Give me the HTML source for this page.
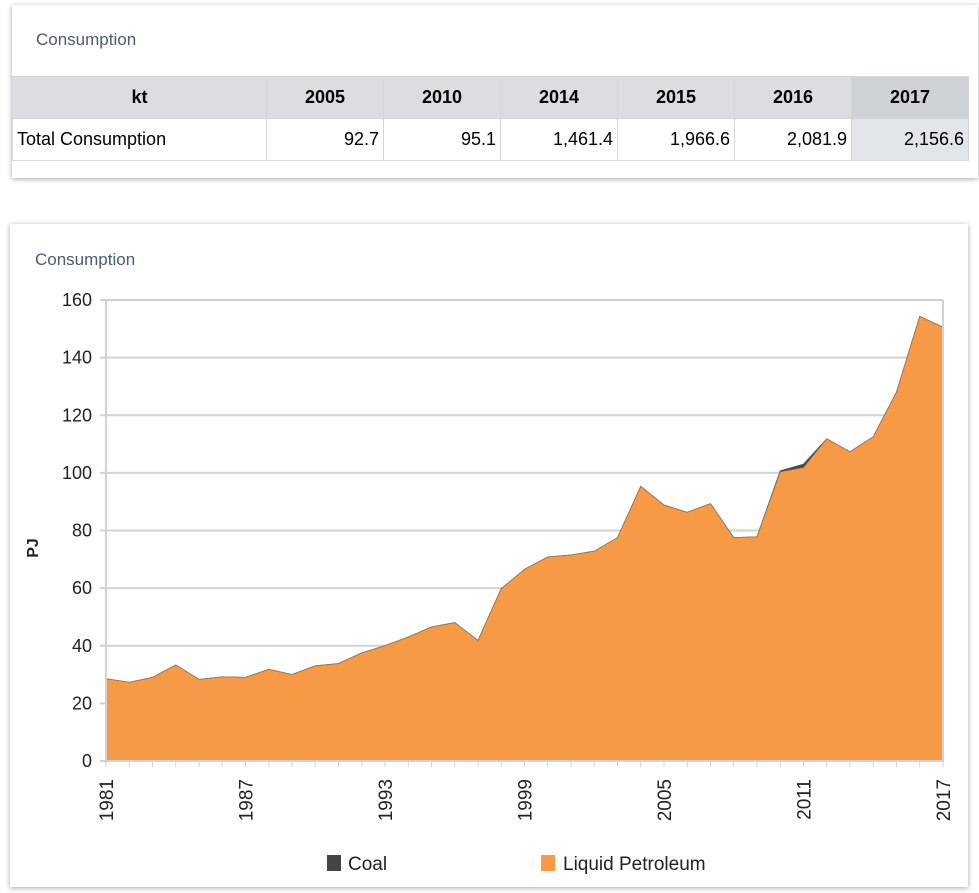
<!DOCTYPE html>
<html><head><meta charset="utf-8"><style>
body{margin:0;width:979px;height:893px;background:#fff;font-family:"Liberation Sans",sans-serif;position:relative;overflow:hidden}
.card{position:absolute;background:#fff;box-shadow:0 1px 5px rgba(0,0,0,.35)}
.title{position:absolute;color:#4a5a75;font-size:17px}
table{position:absolute;border-collapse:collapse;font-size:18px}
td,th{border:1px solid #d4d6da;height:41px;padding:0 4px}
th{background:#dcdde0;font-weight:bold;text-align:center}
td{text-align:right}
</style></head><body>
<div class="card" style="left:12px;top:5px;width:966px;height:173px"></div>
<div class="title" style="left:36px;top:30px">Consumption</div>
<table style="left:12px;top:76px">
<tr><th style="width:245px">kt</th><th style="width:108px">2005</th><th style="width:108px">2010</th><th style="width:108px">2014</th><th style="width:108px">2015</th><th style="width:108px">2016</th><th style="width:108px;background:#cfd3d8">2017</th></tr>
<tr><td style="text-align:left;padding-left:4px">Total Consumption</td><td>92.7</td><td>95.1</td><td>1,461.4</td><td>1,966.6</td><td>2,081.9</td><td style="background:#e2e5e9">2,156.6</td></tr>
</table>
<div class="card" style="left:10px;top:224px;width:958px;height:663px"></div>
<div class="title" style="left:35px;top:250px">Consumption</div>
<svg id="chart" width="979" height="893" style="position:absolute;left:0;top:0"></svg>
<script>
const years=[1981,1982,1983,1984,1985,1986,1987,1988,1989,1990,1991,1992,1993,1994,1995,1996,1997,1998,1999,2000,2001,2002,2003,2004,2005,2006,2007,2008,2009,2010,2011,2012,2013,2014,2015,2016,2017];
const petroleum=[28.5,27.3,29,33.3,28.3,29.2,29,31.8,30,33,33.8,37.5,40,43,46.5,48,41.8,59.8,66.5,70.8,71.5,72.8,77.5,95.3,88.8,86.3,89.3,77.5,77.8,100.3,101.8,111.8,107.3,112.5,128,154.3,150.5];
const coal=[0,0,0,0,0,0,0,0,0,0,0,0,0,0,0,0,0,0,0,0,0,0,0,0,0,0,0,0,0,0.4,1.2,0,0,0,0,0,0];
const yTicks=[0,20,40,60,80,100,120,140,160];
const xLabels=[1981,1987,1993,1999,2005,2011,2017];
const L=106,R=943,T=300,B=761;
const x=y=>L+(y-years[0])/(years[years.length-1]-years[0])*(R-L);
const yy=v=>B-v/160*(B-T);
const svg=document.getElementById('chart');const NS='http://www.w3.org/2000/svg';
function mk(t,a){const e=document.createElementNS(NS,t);for(const k in a)e.setAttribute(k,a[k]);svg.appendChild(e);return e;}
yTicks.forEach(v=>{
 const g=mk('line',{x1:L-6,x2:R,y1:yy(v),y2:yy(v),stroke:'#d0d2d5','stroke-width':2});
 
 
 const t=mk('text',{x:L-14,y:yy(v)+6,'text-anchor':'end','font-size':18,fill:'#222'});t.textContent=v;
 
 
});
years.forEach(y=>{const l=mk('line',{x1:x(y),x2:x(y),y1:B,y2:B+6,stroke:'#d0d2d5','stroke-width':1});
 
 });
let tot=petroleum.map((v,i)=>v+coal[i]);
let dC='M'+x(years[0])+','+B+' '+years.map((y,i)=>'L'+x(y)+','+yy(tot[i])).join(' ')+' L'+R+','+B+'Z';
const c=mk('path',{d:dC,fill:'#444',stroke:'#555','stroke-width':1});


let dP='M'+x(years[0])+','+B+' '+years.map((y,i)=>'L'+x(y)+','+yy(petroleum[i])).join(' ')+' L'+R+','+B+'Z';
const p=mk('path',{d:dP,fill:'#f79a45'});


const pl=mk('polyline',{points:years.map((y,i)=>x(y)+','+yy(petroleum[i])).join(' '),fill:'none',stroke:'#8a7a6a','stroke-width':0.8});


const ax=mk('line',{x1:L,x2:L,y1:T,y2:B,stroke:'#d0d2d5','stroke-width':2});


const ax2=mk('line',{x1:R,x2:R,y1:T,y2:B,stroke:'#d0d2d5','stroke-width':2});


const xa=mk('line',{x1:L,x2:R,y1:B,y2:B,stroke:'#d0d2d5','stroke-width':2});


xLabels.forEach(y=>{const t=mk('text',{transform:`translate(${x(y)+7},779) rotate(-90)`,'text-anchor':'end','font-size':19,fill:'#222'});t.textContent=y;
 
 });
const yt=mk('text',{transform:'translate(38,548) rotate(-90)','text-anchor':'middle','font-size':16,'font-weight':'bold',fill:'#222'});yt.textContent='PJ';


const l1=mk('rect',{x:327,y:855,width:14,height:16,fill:'#444'});


const t1=mk('text',{x:348,y:870,'font-size':19,fill:'#222'});t1.textContent='Coal';


const l2=mk('rect',{x:541,y:855,width:14,height:16,fill:'#f79a45'});


const t2=mk('text',{x:563,y:870,'font-size':19,fill:'#222'});t2.textContent='Liquid Petroleum';


</script>
</body></html>
